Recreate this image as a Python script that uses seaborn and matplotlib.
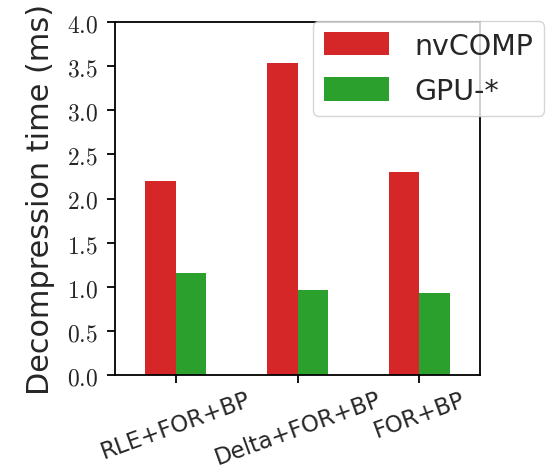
import matplotlib
matplotlib.use("Agg")
import matplotlib.pyplot as plt
import seaborn as sns
import pandas as pd

categories = ["RLE+FOR+BP", "Delta+FOR+BP", "FOR+BP"]
nvcomp = [2.2, 3.53, 2.3]
gpu_star = [1.16, 0.96, 0.93]
series_names = ["nvCOMP", "GPU-*"]
yticks = [0.0, 0.5, 1.0, 1.5, 2.0, 2.5, 3.0, 3.5, 4.0]

df = pd.DataFrame({
    "cat": categories * 2,
    "val": nvcomp + gpu_star,
    "series": [series_names[0]] * 3 + [series_names[1]] * 3,
})

sns.set_style("ticks")
plt.rcParams["font.family"] = ["DejaVu Sans"]
plt.rcParams["mathtext.fontset"] = "cm"

fig = plt.figure(figsize=(5.48, 4.77), dpi=100)
ax = fig.add_axes([115 / 548, 1 - 376 / 477, (480 - 115) / 548, (376 - 23) / 477])
sns.barplot(data=df, x="cat", y="val", hue="series", order=categories,
            hue_order=series_names, palette=["#d62728", "#2ca02c"],
            width=0.5, saturation=1, ax=ax, edgecolor="none", linewidth=0)
ax.set_xlim(-0.5, 2.5)
ax.set_ylim(0, 4.0)
ax.set_yticks(yticks)
ax.set_yticklabels([f"${t:.1f}$" for t in yticks], fontsize=17)
ax.set_xticks(range(len(categories)))
ax.set_xticklabels(categories, rotation=20, fontsize=16.5, ha="center")
ax.set_xlabel("")
ax.set_ylabel("Decompression time (ms)", fontsize=21.8, labelpad=9)
for s in ax.spines.values():
    s.set_linewidth(1.3)
    s.set_color("black")
ax.tick_params(axis="both", width=1.3, length=5.5, color="black")
ax.tick_params(axis="y", pad=6.5)
leg = ax.legend(loc="upper left", bbox_to_anchor=(0.5425, 1.003), fontsize=20.5,
                handlelength=2.28, handleheight=0.87, frameon=True, borderpad=0.38,
                labelspacing=0.6, handletextpad=0.9, borderaxespad=0)
leg.get_frame().set_edgecolor("#cccccc")
fig.savefig("out.png", dpi=100)
